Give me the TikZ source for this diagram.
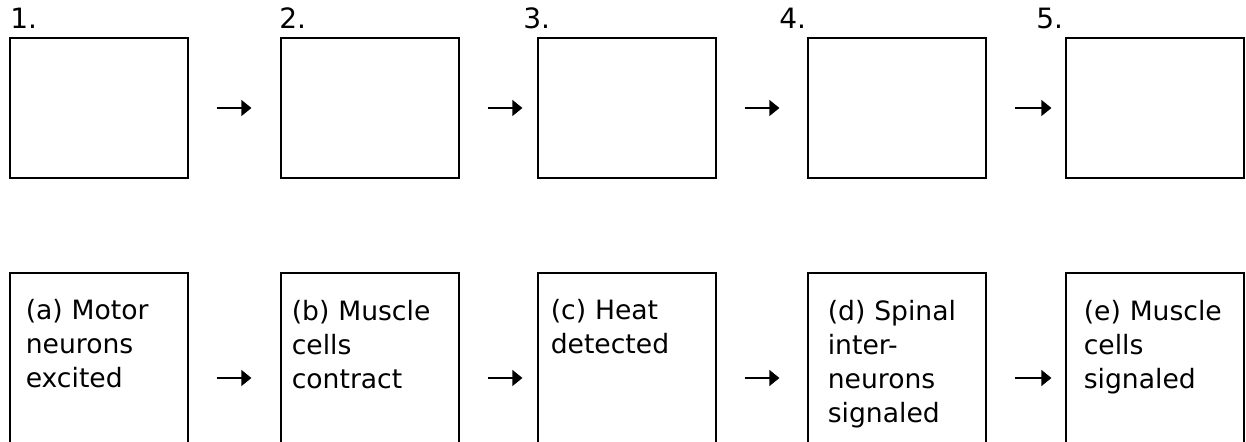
\documentclass[tikz,border=0pt]{standalone}
\usepackage{fontspec}
\setmainfont{DejaVu Sans}
\usetikzlibrary{arrows.meta}

\tikzset{
  stepbox/.style={draw, line width=0.6pt, minimum width=89pt, minimum height=70pt, inner sep=0pt},
  factbox/.style={draw, line width=0.6pt, minimum width=89pt, minimum height=105pt, inner sep=0pt},
  facttext/.style={anchor=north west, inner sep=0pt, align=left, text width=80pt,
    font=\fontsize{13.3}{17}\selectfont},
  numlabel/.style={anchor=base west, inner sep=0pt, font=\fontsize{14}{16}\selectfont},
  flow/.style={-{Triangle[length=5pt,width=8pt]}, line width=0.6pt, shorten <=14pt}
}

\begin{document}
\begin{tikzpicture}[x=0.5pt, y=-0.5pt]
  \clip (0,0) rectangle (1246,442);
  % empty answer boxes
  \foreach \n/\x/\lx in {1/99/10, 2/370/279, 3/627/523, 4/897/779, 5/1155/1036} {
    \node[stepbox] (b\n) at (\x,108) {};
    \node[numlabel] (n\n) at (\lx,29) {\n.};
  }
  % statements to order
  \foreach \n/\x/\dx/\txt in {1/99/16/{(a) Motor\\neurons\\excited},
                              2/370/11/{(b) Muscle\\cells\\contract},
                              3/627/13/{(c) Heat\\detected},
                              4/897/20/{(d) Spinal\\inter-\\neurons\\signaled},
                              5/1155/18/{(e) Muscle\\cells\\signaled}} {
    \node[factbox] (c\n) at (\x,378) {};
    \node[facttext] (t\n) at ([shift={(\dx,27)}]c\n.north west) {\txt};
  }
  \foreach \i/\j/\s in {1/2/14.5pt, 2/3/7.5pt, 3/4/14pt, 4/5/7pt} {
    \draw[flow, shorten >=\s] (b\i) -- (b\j);
    \draw[flow, shorten >=\s] (c\i) -- (c\j);
  }
\end{tikzpicture}
\end{document}
